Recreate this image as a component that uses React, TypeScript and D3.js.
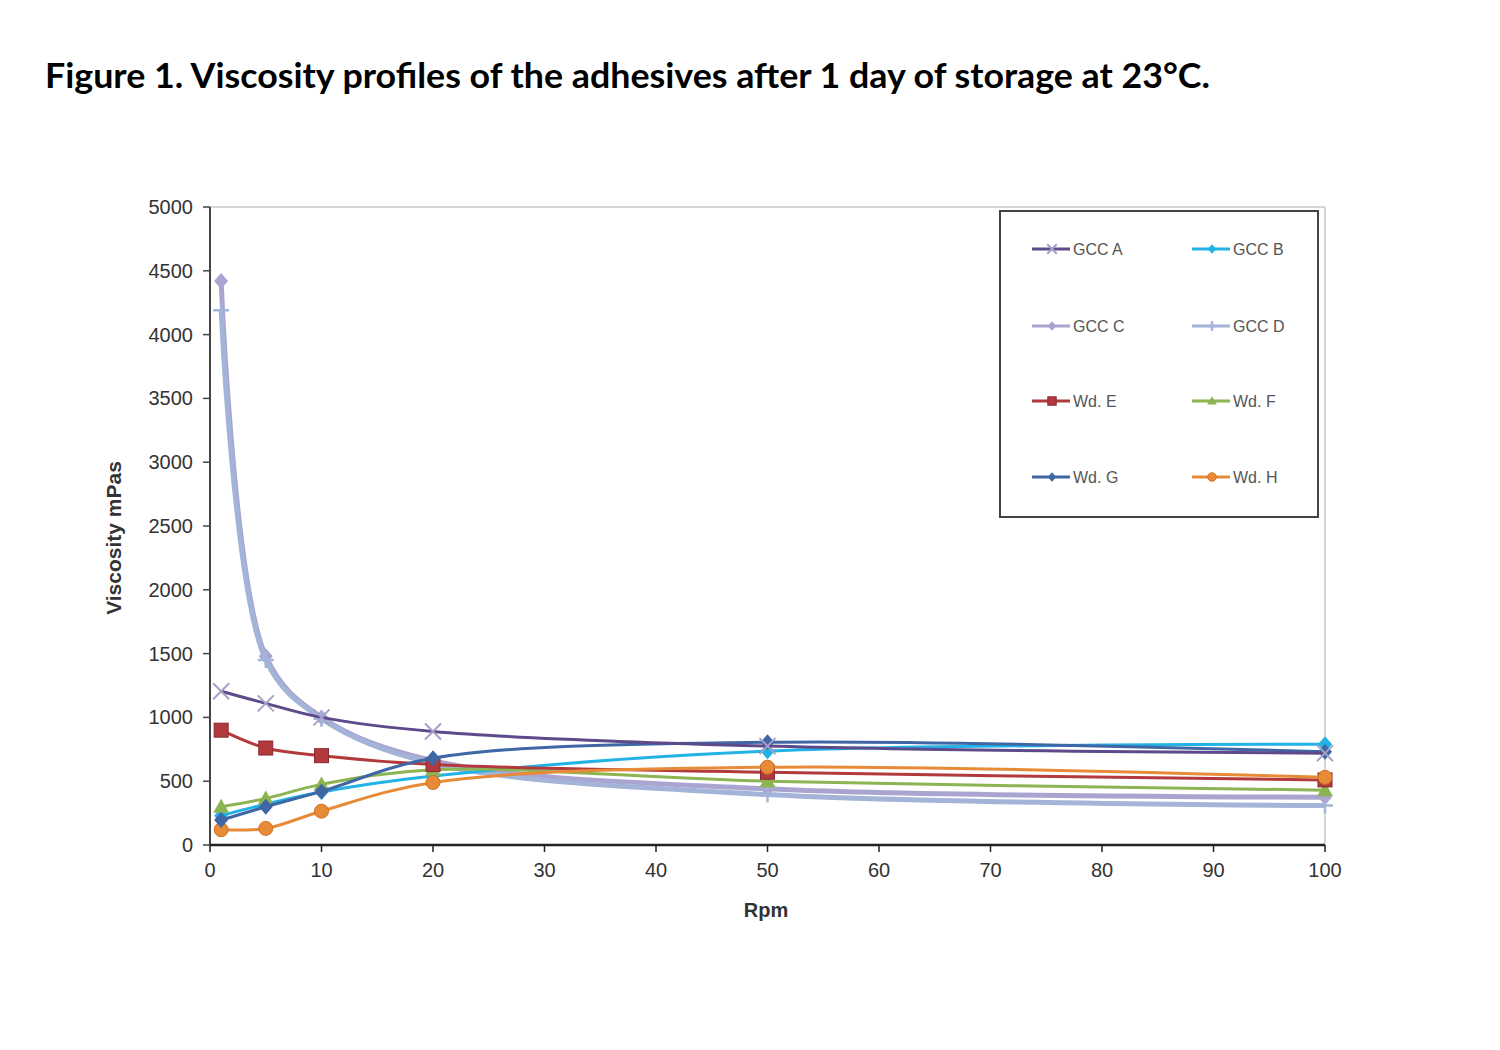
import React from "react";
import * as d3 from "d3";

const rpm = [1, 5, 10, 20, 50, 100];
const gccA = [1205, 1110, 1000, 890, 775, 720];
const gccB = [230, 320, 415, 540, 735, 790];
const gccC = [4420, 1480, 1000, 660, 440, 375];
const gccD = [4190, 1450, 990, 640, 395, 310];
const wdE = [900, 760, 700, 630, 570, 510];
const wdF = [300, 365, 475, 590, 500, 430];
const wdG = [195, 300, 420, 680, 805, 730];
const wdH = [120, 130, 265, 490, 610, 530];

const xTicks = [0, 10, 20, 30, 40, 50, 60, 70, 80, 90, 100];
const yTicks = [0, 500, 1000, 1500, 2000, 2500, 3000, 3500, 4000, 4500, 5000];

type Series = { name: string; values: number[]; color: string; marker: string; width: number };

const series: Series[] = [
  { name: "GCC C", values: gccC, color: "#aaa4d0", marker: "diamond", width: 5 },
  { name: "GCC D", values: gccD, color: "#a3b4d8", marker: "plus", width: 5 },
  { name: "GCC B", values: gccB, color: "#22b2e6", marker: "diamond", width: 3 },
  { name: "Wd. F", values: wdF, color: "#8cb452", marker: "triangle", width: 3 },
  { name: "Wd. E", values: wdE, color: "#b23a3c", marker: "square", width: 3 },
  { name: "Wd. H", values: wdH, color: "#e88b38", marker: "circle", width: 3 },
  { name: "Wd. G", values: wdG, color: "#3f67a6", marker: "diamond", width: 3 },
  { name: "GCC A", values: gccA, color: "#5d4a8a", marker: "x", width: 3 },
];

const legendOrder = ["GCC A", "GCC B", "GCC C", "GCC D", "Wd. E", "Wd. F", "Wd. G", "Wd. H"];

const Marker = ({ type, x, y, color, s = 1 }: { type: string; x: number; y: number; color: string; s?: number }) => {
  switch (type) {
    case "square":
      return <rect x={x - 7 * s} y={y - 7 * s} width={14 * s} height={14 * s} fill={color} stroke="#8a2a2c" strokeWidth={1} />;
    case "circle":
      return <circle cx={x} cy={y} r={7 * s} fill={color} stroke="#d07020" strokeWidth={1} />;
    case "triangle":
      return <path d={`M${x},${y - 8 * s}L${x + 8 * s},${y + 6 * s}L${x - 8 * s},${y + 6 * s}Z`} fill={color} />;
    case "diamond":
      return <path d={`M${x},${y - 8 * s}L${x + 7 * s},${y}L${x},${y + 8 * s}L${x - 7 * s},${y}Z`} fill={color} />;
    case "plus":
      return <path d={`M${x - 8 * s},${y}H${x + 8 * s}M${x},${y - 8 * s}V${y + 8 * s}`} stroke={color} strokeWidth={2.5} />;
    case "x":
      return <path d={`M${x - 8 * s},${y - 8 * s}L${x + 8 * s},${y + 8 * s}M${x - 8 * s},${y + 8 * s}L${x + 8 * s},${y - 8 * s}`} stroke="#a6a0c8" strokeWidth={2} />;
    default:
      return null;
  }
};

export default function App() {
  const W = 1500, H = 1050;
  const left = 210, right = 1325, top = 207, bottom = 845;
  const x = d3.scaleLinear().domain([0, 100]).range([left, right]);
  const y = d3.scaleLinear().domain([0, 5000]).range([bottom, top]);
  const line = d3
    .line<number>()
    .x((_, i) => x(rpm[i]))
    .y((d) => y(d))
    .curve(d3.curveCatmullRom.alpha(0.5));
  const tickFont = "Liberation Sans, Arial, sans-serif";
  const legX = [1032, 1192];
  const legY = [249, 326, 401, 477];

  return (
    <svg width={W} height={H} style={{ position: "absolute", left: 0, top: 0, background: "#fff" }}>
      <rect width={W} height={H} fill="#fff" />
      <text x={45} y={88} fontFamily="Lato, 'Open Sans', sans-serif" fontWeight={700} fontSize={35} fill="#000" textLength={1165} lengthAdjust="spacingAndGlyphs">
        Figure 1. Viscosity profiles of the adhesives after 1 day of storage at 23°C.
      </text>

      {/* plot border */}
      <line x1={left} y1={top} x2={right} y2={top} stroke="#c8c8c8" strokeWidth={1.5} />
      <line x1={right} y1={top} x2={right} y2={bottom} stroke="#c8c8c8" strokeWidth={1.5} />

      {/* series */}
      {series.map((s) => (
        <g key={s.name}>
          <path d={line(s.values) || ""} fill="none" stroke={s.color} strokeWidth={s.width} strokeLinejoin="round" />
          {s.values.map((v, i) => (
            <Marker key={i} type={s.marker} x={x(rpm[i])} y={y(v)} color={s.color} />
          ))}
        </g>
      ))}

      {/* axes */}
      <line x1={left} y1={top} x2={left} y2={bottom} stroke="#444" strokeWidth={2} />
      <line x1={left} y1={bottom} x2={right} y2={bottom} stroke="#222" strokeWidth={2.5} />
      {yTicks.map((t) => (
        <g key={t}>
          <line x1={left - 7} x2={left} y1={y(t)} y2={y(t)} stroke="#444" strokeWidth={1.5} />
          <text x={left - 17} y={y(t) + 7} textAnchor="end" fontFamily={tickFont} fontSize={20} fill="#333">
            {t}
          </text>
        </g>
      ))}
      {xTicks.map((t) => (
        <g key={t}>
          <line x1={x(t)} x2={x(t)} y1={bottom} y2={bottom + 7} stroke="#222" strokeWidth={1.5} />
          <text x={x(t)} y={bottom + 32} textAnchor="middle" fontFamily={tickFont} fontSize={20} fill="#333">
            {t}
          </text>
        </g>
      ))}
      <text x={766} y={917} textAnchor="middle" fontFamily={tickFont} fontWeight={700} fontSize={20} fill="#333">
        Rpm
      </text>
      <text transform="translate(121,538) rotate(-90)" textAnchor="middle" fontFamily={tickFont} fontWeight={700} fontSize={21} fill="#333">
        Viscosity mPas
      </text>

      {/* legend */}
      <rect x={1000} y={211} width={318} height={306} fill="#fff" stroke="#444" strokeWidth={2} />
      {legendOrder.map((name, i) => {
        const s = series.find((q) => q.name === name)!;
        const lx = legX[i % 2];
        const ly = legY[Math.floor(i / 2)];
        return (
          <g key={name}>
            <line x1={lx} x2={lx + 38} y1={ly} y2={ly} stroke={s.color} strokeWidth={3} />
            <Marker type={s.marker} x={lx + 20} y={ly} color={s.color} s={0.6} />
            <text x={lx + 41} y={ly + 6} fontFamily={tickFont} fontSize={16} fill="#555">
              {name}
            </text>
          </g>
        );
      })}
    </svg>
  );
}
